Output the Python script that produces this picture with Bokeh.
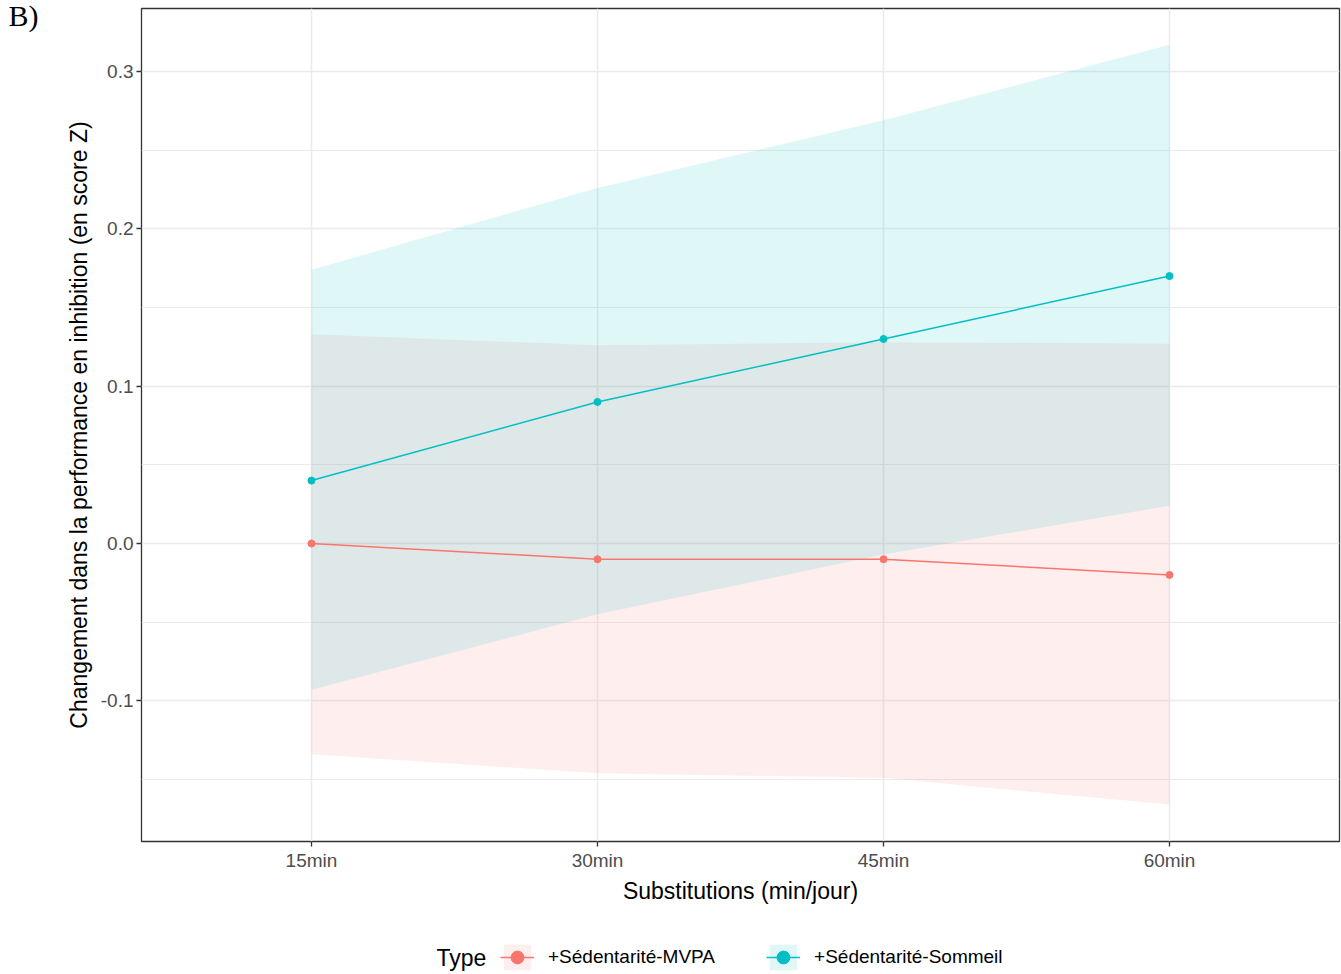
from bokeh.plotting import figure
from bokeh.models import (Range1d, FixedTicker, Legend, LegendItem, Title, Label)
from bokeh.layouts import column
from bokeh.embed import file_html
from bokeh.resources import INLINE

# ---- data ----
categories = ["15min", "30min", "45min", "60min"]
series_names = ["+Sédentarité-MVPA", "+Sédentarité-Sommeil"]
mvpa = [0.0, -0.01, -0.01, -0.02]
mvpa_low = [-0.134, -0.146, -0.149, -0.166]
mvpa_high = [0.133, 0.126, 0.128, 0.127]
sommeil = [0.04, 0.09, 0.13, 0.17]
sommeil_low = [-0.093, -0.045, -0.007, 0.024]
sommeil_high = [0.174, 0.226, 0.269, 0.317]
y_ticks = [-0.1, 0.0, 0.1, 0.2, 0.3]
y_minor = [-0.15, -0.05, 0.05, 0.15, 0.25]

RED = "#F8766D"
CYAN = "#00BFC4"
FONT = "Liberation Sans"

xs = list(range(1, len(categories) + 1))
series = [
    (series_names[0], RED, mvpa, mvpa_low, mvpa_high),
    (series_names[1], CYAN, sommeil, sommeil_low, sommeil_high),
]

p = figure(width=1341, height=910, output_backend="svg", toolbar_location=None,
           x_range=Range1d(0.4056, 4.5944), y_range=Range1d(-0.18945, 0.3401),
           min_border_left=141, min_border_right=2, min_border_top=8,
           min_border_bottom=69)
p.background_fill_color = "white"
p.border_fill_color = "white"
p.outline_line_color = "#333333"
p.outline_line_width = 1.3

# grids
p.xgrid.ticker = FixedTicker(ticks=xs)
p.ygrid.ticker = FixedTicker(ticks=y_ticks, minor_ticks=y_minor)
for g in (p.xgrid[0], p.ygrid[0]):
    g.grid_line_color = "#EBEBEB"
    g.grid_line_width = 1.5
p.ygrid.minor_grid_line_color = "#EBEBEB"
p.ygrid.minor_grid_line_width = 1.0

# axes
p.xaxis.ticker = FixedTicker(ticks=xs)
p.xaxis.major_label_overrides = {x: c for x, c in zip(xs, categories)}
p.yaxis.ticker = FixedTicker(ticks=y_ticks)
p.yaxis.major_label_overrides = {t: f"{t:.1f}" for t in y_ticks}
p.xaxis.axis_label = "Substitutions (min/jour)"
p.yaxis.axis_label = "Changement dans la performance en inhibition (en score Z)"
for ax in (p.xaxis[0], p.yaxis[0]):
    ax.axis_line_color = None
    ax.major_tick_line_color = "#333333"
    ax.major_tick_line_width = 1.3
    ax.major_tick_out = 5
    ax.major_tick_in = 0
    ax.minor_tick_line_color = None
    ax.major_label_text_font = FONT
    ax.major_label_text_font_size = "19px"
    ax.major_label_text_color = "#4D4D4D"
    ax.major_label_standoff = 3
    ax.axis_label_text_font = FONT
    ax.axis_label_text_font_size = "23px"
    ax.axis_label_text_font_style = "normal"
    ax.axis_label_text_color = "black"
p.xaxis.axis_label_standoff = 4
p.yaxis.axis_label_standoff = 6

# ribbons first, then lines and points
for name, col, mid, lo, hi in series:
    p.varea(x=xs, y1=lo, y2=hi, fill_color=col, fill_alpha=0.12)
for name, col, mid, lo, hi in series:
    p.line(xs, mid, line_color=col, line_width=1.5)
    p.scatter(xs, mid, size=7, fill_color=col, line_color=col)

# panel tag "B)" in the top-left corner
tag = Title(text="B)", align="left", offset=-133, standoff=-47,
            vertical_align="bottom", text_font="Liberation Serif",
            text_font_size="30px", text_font_style="normal", text_color="black")
p.add_layout(tag, "above")

# ---- legend strip (separate figure below the plot) ----
# its ranges keep the key renderers' data out of view: only the legend shows
leg = figure(width=1341, height=63, output_backend="svg", toolbar_location=None,
             x_range=Range1d(-2, -1), y_range=Range1d(-2, -1),
             x_axis_type=None, y_axis_type=None,
             min_border_left=0, min_border_right=0, min_border_top=0,
             min_border_bottom=0)
leg.outline_line_color = None
leg.grid.visible = False
leg.background_fill_color = "white"
leg.border_fill_color = "white"

key_items = []
for name, col, mid, lo, hi in series:
    kv = leg.varea(x=xs, y1=lo, y2=hi, fill_color=col, fill_alpha=0.12)
    kl = leg.line(x=xs, y=mid, line_color=col, line_width=1.5)
    ks = leg.scatter(x=xs, y=mid, size=7, fill_color=col, line_color=col)
    key_items.append(LegendItem(label=name, renderers=[kv, kl, ks]))

legend = Legend(items=key_items, orientation="horizontal", location=(359, 0),
                glyph_width=34, glyph_height=32, label_standoff=14, spacing=51,
                padding=0, margin=0, border_line_color=None, background_fill_alpha=0,
                label_text_font=FONT, label_text_font_size="19px",
                label_text_color="black", label_height=32)
leg.add_layout(legend, "center")
leg.add_layout(Label(x=295, y=16, x_units="screen", y_units="screen", text="Type",
                     text_font=FONT, text_font_size="23px", text_color="black",
                     text_baseline="middle", text_align="left"))

layout = column(p, leg, spacing=0)
open("out.html", "w").write(file_html(layout, INLINE))
